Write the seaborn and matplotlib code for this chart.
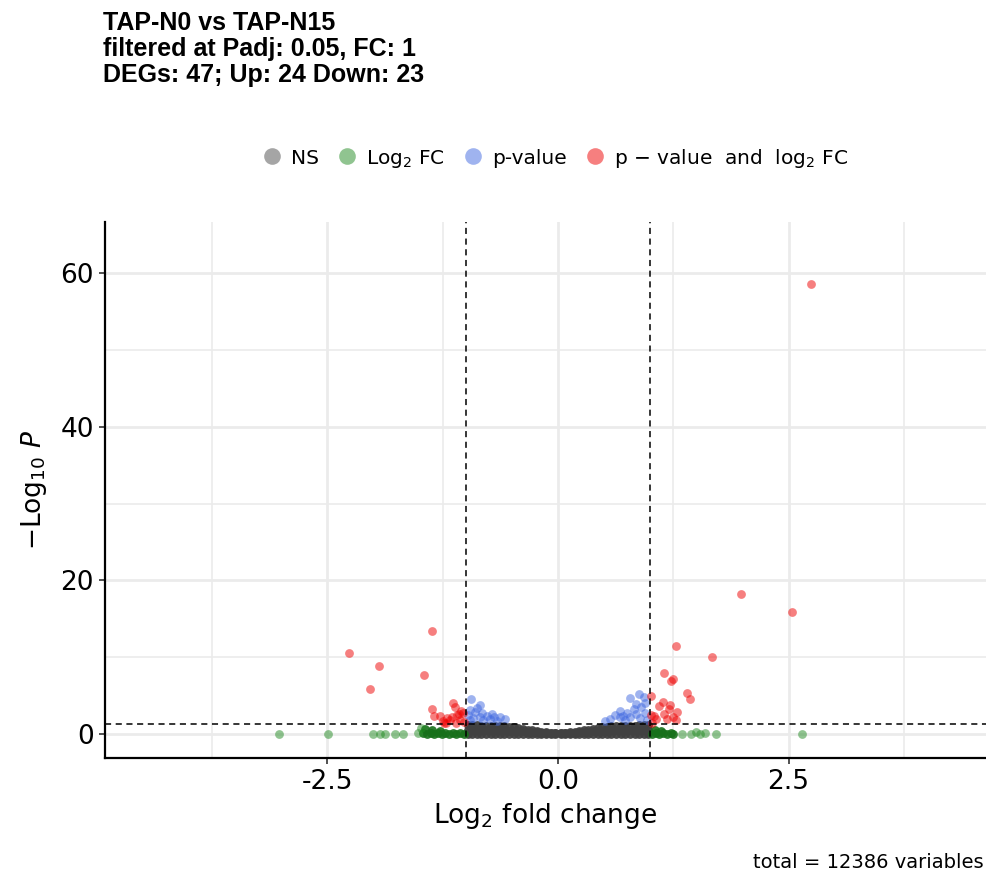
import matplotlib
matplotlib.use("Agg")

import numpy as np
import pandas as pd
import matplotlib.pyplot as plt
import seaborn as sns
from matplotlib.lines import Line2D
from matplotlib.ticker import MultipleLocator
from matplotlib import font_manager

# Volcano plot: TAP-N0 vs TAP-N15

# red: p-value and log2 FC
both_x = [-1.36, -2.26, -1.94, -1.45, -2.04, -1.14, -1.12, -1.37, -1.34, -1.28,
          -1.20, -1.09, -1.03, -1.06, -1.21, -1.10, -1.07, -1.23, -1.17, -1.15,
          -1.05, -1.02, -1.25,
          2.74, 1.98, 2.54, 1.28, 1.67, 1.15, 1.25, 1.22, 1.40, 1.43,
          1.01, 1.14, 1.21, 1.20, 1.29, 1.15, 1.25, 1.28, 1.04, 1.01,
          1.02, 1.10, 1.06, 1.18]
both_y = [13.46, 10.5, 8.86, 7.73, 5.86, 4.08, 3.48, 3.30, 2.35, 2.30,
          2.05, 2.48, 2.70, 1.82, 1.39, 1.40, 2.60, 1.47, 1.80, 2.20,
          3.00, 1.60, 1.70,
          58.6, 18.2, 15.9, 11.5, 10.0, 7.9, 7.2, 6.9, 5.4, 4.5,
          4.9, 4.2, 3.8, 3.3, 2.9, 2.6, 2.2, 1.8, 2.3, 2.5,
          1.4, 3.6, 1.9, 2.0]

# blue: p-value only
pval_x = [-0.94, -0.85, -0.95, -0.90, -0.82, -0.97, -0.77, -0.85, -0.69, -0.63,
          -0.57, -0.92, -0.74, -0.95, -0.81, -0.88, -0.72, -0.66,
          0.88, 0.78, 0.93, 0.94, 0.90, 0.67, 0.82, 0.75, 0.62, 0.85,
          0.94, 0.67, 0.78, 0.89, 0.56, 0.51, 0.96, 0.73, 0.85, 0.71]
pval_y = [4.56, 3.78, 3.13, 2.90, 2.78, 2.48, 2.40, 2.26, 2.17, 2.17,
          1.95, 2.04, 1.95, 1.80, 1.80, 3.4, 2.6, 1.7,
          5.2, 4.7, 4.8, 4.1, 3.5, 3.0, 3.3, 2.7, 2.5, 2.55,
          2.7, 2.2, 2.2, 2.05, 1.9, 1.73, 1.8, 1.8, 3.9, 2.4]

# green: log2 FC only (sparse tail points)
fc_x = [-3.02, -2.49, -2.00, -1.93, -1.87, -1.77, -1.68, -1.52, -1.49,
        1.34, 1.44, 1.50, 1.54, 1.59, 1.71, 2.65]
fc_y = [0.05, 0.05, 0.05, 0.05, 0.05, 0.05, 0.05, 0.10, 0.80,
        0.05, 0.05, 0.30, 0.05, 0.10, 0.05, 0.05]

# green: log2 FC only (crowded near the cut-off)
fc_dense_x = [-1.46, -1.42, -1.38, -1.34, -1.30, -1.26, -1.22, -1.18, -1.14,
              -1.10, -1.06, -1.02, -1.44, -1.36, -1.28,
              1.02, 1.06, 1.10, 1.14, 1.18, 1.22, 1.25, 1.05, 1.12]
fc_dense_y = [0.10, 0.05, 0.10, 0.05, 0.10, 0.05, 0.10, 0.05, 0.10,
              0.05, 0.10, 0.05, 0.60, 0.50, 0.40,
              0.05, 0.10, 0.05, 0.10, 0.05, 0.10, 0.05, 0.50, 0.40]

# grey: not significant (bulk between the FC cut-offs)
ns_x = [-0.98, -0.93, -0.88, -0.83, -0.78, -0.73, -0.68, -0.63, -0.58, -0.53,
        -0.48, -0.43, -0.38, -0.33, -0.28, -0.23, -0.18, -0.13, -0.08, -0.03,
        0.03, 0.08, 0.13, 0.18, 0.23, 0.28, 0.33, 0.38, 0.43, 0.48,
        0.53, 0.58, 0.63, 0.68, 0.73, 0.78, 0.83, 0.88, 0.93, 0.98]
ns_top_y = [1.15, 1.15, 1.15, 1.10, 1.10, 1.10, 1.10, 1.05, 1.00, 0.95,
            0.88, 0.78, 0.68, 0.58, 0.48, 0.38, 0.30, 0.22, 0.15, 0.12,
            0.12, 0.15, 0.22, 0.30, 0.38, 0.48, 0.58, 0.68, 0.78, 0.88,
            0.95, 1.00, 1.05, 1.10, 1.10, 1.10, 1.10, 1.15, 1.15, 1.15]
ns_mid_y = [0.55, 0.55, 0.55, 0.55, 0.55, 0.55, 0.55, 0.50, 0.50, 0.45,
            0.45, 0.40, 0.35, 0.30, 0.25, 0.20, 0.15, 0.12, 0.10, 0.08,
            0.08, 0.10, 0.12, 0.15, 0.20, 0.25, 0.30, 0.35, 0.40, 0.45,
            0.45, 0.50, 0.50, 0.55, 0.55, 0.55, 0.55, 0.55, 0.55, 0.55]
ns_low_y = [0.04, 0.04, 0.04, 0.04, 0.04, 0.04, 0.04, 0.04, 0.04, 0.04,
            0.03, 0.03, 0.03, 0.03, 0.03, 0.03, 0.02, 0.02, 0.02, 0.02,
            0.02, 0.02, 0.02, 0.02, 0.03, 0.03, 0.03, 0.03, 0.03, 0.03,
            0.04, 0.04, 0.04, 0.04, 0.04, 0.04, 0.04, 0.04, 0.04, 0.04]

x_ticks = [-2.5, 0.0, 2.5]
y_ticks = [0, 20, 40, 60]
fc_cut = 1.0
p_cut = 1.30103

title = "TAP-N0 vs TAP-N15\nfiltered at Padj: 0.05, FC: 1\nDEGs: 47; Up: 24 Down: 23"
caption = "total = 12386 variables"

col_ns, col_fc, col_p, col_both = "#4D4D4D", "#228B22", "#4169E1", "#EE0000"

ns_df = pd.DataFrame({"x": ns_x * 3, "y": ns_top_y + ns_mid_y + ns_low_y})

plt.rcParams["axes.unicode_minus"] = False
plt.rcParams["mathtext.fontset"] = "dejavusans"

# plain-width bold Liberation Sans for the title (avoid the Narrow cut)
title_font = None
for f in font_manager.fontManager.ttflist:
    if f.name == "Liberation Sans" and f.weight in (700, "bold") \
            and f.style == "normal" and "Narrow" not in f.fname:
        title_font = font_manager.FontProperties(fname=f.fname, size=18)
        break
if title_font is None:
    title_font = font_manager.FontProperties(family="DejaVu Sans",
                                             weight="bold", size=16)

fig = plt.figure(figsize=(9.86, 8.74), dpi=100)
ax = fig.add_axes([0.1065, 0.1327, 0.8935, 0.6133])

pt = 40
sns.scatterplot(data=ns_df, x="x", y="y", color="#414141", alpha=0.95, s=pt,
                linewidth=0, ax=ax, legend=False)
sns.scatterplot(x=fc_dense_x, y=fc_dense_y, color="#17701a", alpha=0.9, s=pt,
                linewidth=0, ax=ax, legend=False)
sns.scatterplot(x=fc_x, y=fc_y, color=col_fc, alpha=0.5, s=pt,
                linewidth=0, ax=ax, legend=False)
sns.scatterplot(x=pval_x, y=pval_y, color=col_p, alpha=0.5, s=pt,
                linewidth=0, ax=ax, legend=False)
sns.scatterplot(x=both_x, y=both_y, color=col_both, alpha=0.5, s=pt,
                linewidth=0, ax=ax, legend=False)

# cut-off lines
for v in (-fc_cut, fc_cut):
    ax.axvline(v, color="black", lw=1.1, ls=(0, (4, 3)), zorder=3)
ax.axhline(p_cut, color="black", lw=1.1, ls=(0, (4, 3)), zorder=3)

ax.set_xlim(-4.91, 4.64)
ax.set_ylim(-3.13, 66.7)
ax.set_xticks(x_ticks)
ax.set_xticklabels([f"{t:.1f}" for t in x_ticks])
ax.set_yticks(y_ticks)
ax.xaxis.set_minor_locator(MultipleLocator(1.25))
ax.yaxis.set_minor_locator(MultipleLocator(10))

ax.grid(which="major", color="#EBEBEB", lw=2.0, zorder=0)
ax.grid(which="minor", color="#EBEBEB", lw=1.2, zorder=0)
ax.set_axisbelow(True)

for s in ("top", "right"):
    ax.spines[s].set_visible(False)
for s in ("left", "bottom"):
    ax.spines[s].set_color("black")
    ax.spines[s].set_linewidth(1.6)

ax.tick_params(which="major", length=4, width=1.2, color="#333333",
               labelsize=19, labelcolor="black", pad=4)
ax.tick_params(which="minor", length=0)

ax.set_xlabel(r"$\mathrm{Log}_{2}$ fold change", fontsize=19, labelpad=4)
ax.set_ylabel(r"$-\mathrm{Log}_{10}\ \mathit{P}$", fontsize=19, labelpad=8)

fig.text(0.1045, 1 - 11 / 874, title, ha="left", va="top",
         fontproperties=title_font, linespacing=1.1)

handles = [Line2D([], [], ls="", marker="o", ms=12, mew=0, color=c, alpha=0.5)
           for c in (col_ns, col_fc, col_p, col_both)]
labels = ["NS", r"Log$_{2}$ FC", "p-value", r"p $-$ value  and  log$_{2}$ FC"]
fig.legend(handles, labels, loc="center", bbox_to_anchor=(0.562, 1 - 158 / 874),
           ncol=4, frameon=False, fontsize=14.5, handletextpad=0.35,
           columnspacing=0.8, handlelength=1.2)

fig.text(0.998, 1 - 862 / 874, caption, ha="right", va="center", fontsize=14)

fig.savefig("out.png", dpi=100)
